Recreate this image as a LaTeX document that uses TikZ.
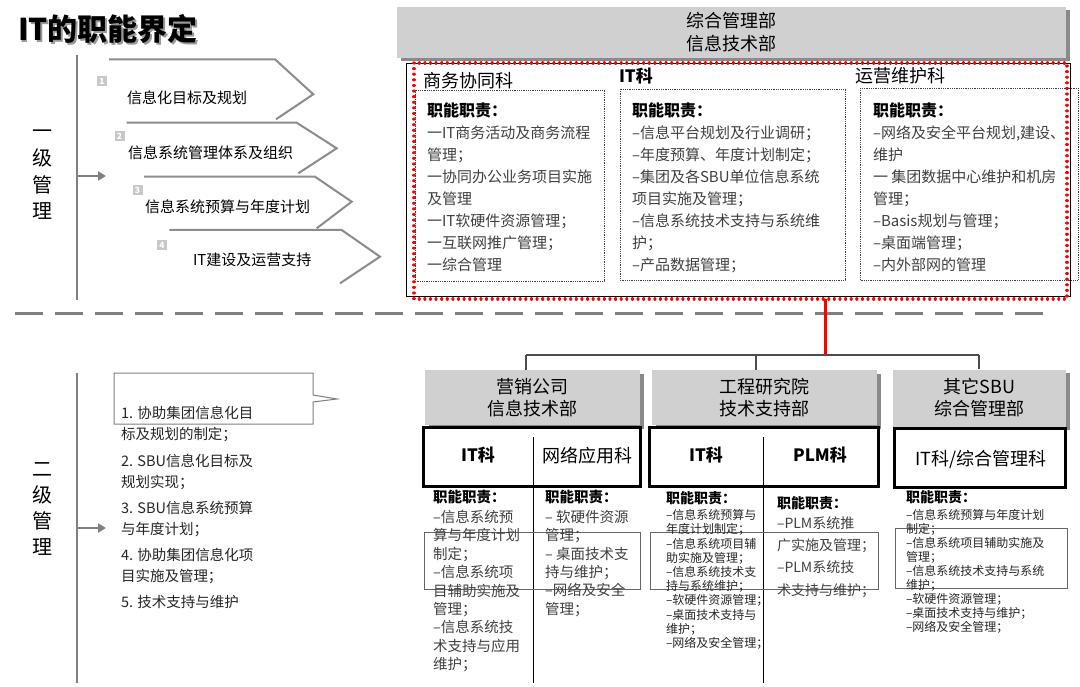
\documentclass[tikz,border=0pt]{standalone}
\usepackage{fontspec}
\setmainfont{Noto Sans CJK SC}
\usetikzlibrary{arrows.meta,shadows}
\definecolor{chev}{HTML}{8C8C8C}
\definecolor{lline}{HTML}{808080}
\definecolor{hdrgray}{HTML}{D0D0D0}
\definecolor{shgray}{HTML}{8A8A8A}
\definecolor{txtgray}{HTML}{404040}
\definecolor{numgray}{HTML}{C8C8C8}
\definecolor{redd}{HTML}{FF0000}
\newcommand\fs[2]{\fontsize{#1}{#2}\selectfont}
\begin{document}
\begin{tikzpicture}[x=1pt,y=-1pt,
  every node/.style={inner sep=0pt,outer sep=0pt},
  leftline/.style={draw=lline,line width=2.6pt},
  arr/.style={draw=lline,line width=2.6pt,-{Triangle[length=8pt,width=9pt]}},
  chevline/.style={draw=chev,line width=2pt},
  numbox/.style={fill=numgray,minimum width=10pt,minimum height=10pt,text=white,font=\fs{8.5}{9}\bfseries},
  chevtxt/.style={anchor=west,font=\fs{15}{18},text=black},
  hdr/.style={fill=hdrgray,draw=none,align=center,text=black,
    drop shadow={shadow xshift=3.5pt,shadow yshift=-3.5pt,fill=shgray,opacity=1}},
  reddot/.style={draw=redd,line width=3.2pt,dash pattern=on 0.01pt off 5.6pt,line cap=round},
  dotbox/.style={draw=black!75,line width=0.7pt,dash pattern=on 0.9pt off 0.9pt},
  boxtxt/.style={anchor=north west,align=left,text=txtgray},
  dutyhead/.style={anchor=west,font=\fs{16}{18}\bfseries,text=black},
  secname/.style={anchor=west,font=\fs{18}{20},text=black},
  dashline/.style={draw=lline,line width=3pt,dash pattern=on 28pt off 12pt},
  treeline/.style={draw=black!70,line width=1.3pt},
  blackbox/.style={draw=black,line width=3pt},
  overlay/.style={draw=black!60,line width=0.8pt},
  divider/.style={draw=black,line width=0.8pt}
]
\fill[white] (0,0) rectangle (1080,687);
\useasboundingbox (0,0) rectangle (1080,687);

% title
\node[anchor=west,font=\fs{30}{36}\bfseries,text=black!40] (titlesh) at (19.6,30.6) {IT的职能界定};
\node[anchor=west,font=\fs{30}{36}\bfseries,text=black] (title) at (18,29) {IT的职能界定};

% ---------- level 1 left ----------
\coordinate (v1t) at (77,55);
\coordinate (v1b) at (77,300);
\draw[leftline] (v1t) -- (v1b);
\coordinate (a1s) at (77,176);
\coordinate (a1e) at (106,176);
\draw[arr] (a1s) -- (a1e);
\node[align=center,font=\fs{20}{26.7},text=black] (lvl1) at (42,175) {一\\级\\管\\理};

\draw[chevline] (109,59.3) -- (275,59.3) -- (313.3,94.3) -- (276,119.3);
\draw[chevline] (126.7,122.7) -- (296.7,122.7) -- (336.7,148.3) -- (298.3,173.3);
\draw[chevline] (144,176.7) -- (315,176.7) -- (351.7,201.7) -- (316.7,228.3);
\draw[chevline] (169.3,230) -- (341.7,230) -- (380,256.7) -- (340,283.3);
\node[numbox] (n1) at (102,81) {1};
\node[numbox] (n2) at (119.5,136) {2};
\node[numbox] (n3) at (137.5,190) {3};
\node[numbox] (n4) at (162,245) {4};
\node[chevtxt] (c1) at (127,98) {信息化目标及规划};
\node[chevtxt] (c2) at (128,153) {信息系统管理体系及组织};
\node[chevtxt] (c3) at (145,207) {信息系统预算与年度计划};
\node[chevtxt] (c4) at (193,260) {IT建设及运营支持};

% ---------- top department ----------
\node[hdr,minimum width=669pt,minimum height=51pt,font=\fs{18}{23}] (top) at (731.5,32.5) {综合管理部\\信息技术部};
\draw[black,line width=0.8pt] (406,63) rectangle (1070,296);
\draw[reddot] (414,63) rectangle (1067,299);
\draw[dotbox] (415,90) rectangle (604,281);
\draw[dotbox] (620,89) rectangle (845,280);
\draw[dotbox] (860,88) rectangle (1078,280);

\node[secname] (s1) at (423,81) {商务协同科};
\node[anchor=west,font=\fs{17}{20}\bfseries,text=black] (s2) at (619,76) {IT科};
\node[secname] (s3) at (855,76) {运营维护科};

\node[dutyhead] (d1) at (427,110) {职能职责：};
\node[dutyhead] (d2) at (632,110) {职能职责：};
\node[dutyhead] (d3) at (873,110) {职能职责：};

\node[boxtxt,font=\fs{15}{22}] (t1) at (427,126) {一IT商务活动及商务流程\\管理；\\一协同办公业务项目实施\\及管理\\一IT软硬件资源管理；\\一互联网推广管理；\\一综合管理};
\node[boxtxt,font=\fs{15}{22}] (t2) at (632,126) {–信息平台规划及行业调研；\\–年度预算、年度计划制定；\\–集团及各SBU单位信息系统\\项目实施及管理；\\–信息系统技术支持与系统维\\护；\\–产品数据管理；};
\node[boxtxt,font=\fs{15}{22}] (t3) at (873,126) {–网络及安全平台规划,建设、\\维护\\一 集团数据中心维护和机房\\管理；\\–Basis规划与管理；\\–桌面端管理；\\–内外部网的管理};

% ---------- separator ----------
\coordinate (dl) at (15,314);
\coordinate (dr) at (1045,314);
\draw[dashline] (dl) -- (dr);

% ---------- tree ----------
\coordinate (redA) at (825,299);
\coordinate (redB) at (825,355);
\coordinate (trL) at (526,355);
\coordinate (trM) at (756,355);
\coordinate (trR) at (979,355);
\coordinate (dA) at (526,370);
\coordinate (dB) at (756,370);
\coordinate (dC) at (979,369);
\draw[treeline] (trL) -- (trR);
\draw[treeline] (trL) -- (dA);
\draw[treeline] (trM) -- (dB);
\draw[treeline] (trR) -- (dC);
\draw[redd,line width=3pt] (redA) -- (redB);

% ---------- level 2 left ----------
\coordinate (v2t) at (77,373);
\coordinate (v2b) at (77,683);
\draw[leftline] (v2t) -- (v2b);
\coordinate (a2s) at (77,528);
\coordinate (a2e) at (106,528);
\draw[arr] (a2s) -- (a2e);
\node[align=center,font=\fs{20}{26},text=black] (lvl2) at (42,509) {二\\级\\管\\理};

\draw[draw=lline,line width=1pt] (114,373) -- (313,373) -- (313,395) -- (337,399) -- (313,402) -- (313,424) -- (114,424) -- cycle;

\node[boxtxt,font=\fs{14.5}{20.5},text=black!85] (L1) at (121,406.2) {1. 协助集团信息化目\\标及规划的制定；};
\node[boxtxt,font=\fs{14.5}{20.5},text=black!85] (L2) at (121,454.2) {2. SBU信息化目标及\\规划实现；};
\node[boxtxt,font=\fs{14.5}{20.5},text=black!85] (L3) at (121,501.2) {3. SBU信息系统预算\\与年度计划；};
\node[boxtxt,font=\fs{14.5}{20.5},text=black!85] (L4) at (121,548.2) {4. 协助集团信息化项\\目实施及管理；};
\node[boxtxt,font=\fs{14.5}{20.5},text=black!85] (L5) at (121,595.2) {5. 技术支持与维护};

% ---------- level 2 departments ----------
\node[hdr,minimum width=215pt,minimum height=55pt,font=\fs{18}{22}] (hA) at (532.5,397.5) {营销公司\\信息技术部};
\node[hdr,minimum width=225pt,minimum height=55pt,font=\fs{18}{22}] (hB) at (764.5,397.5) {工程研究院\\技术支持部};
\node[hdr,minimum width=173pt,minimum height=57pt,font=\fs{18}{22}] (hC) at (979.5,398) {其它SBU\\综合管理部};

\draw[blackbox] (423,427) rectangle (640,486);
\draw[blackbox] (649,427) rectangle (878,486);
\draw[blackbox] (894,428) rectangle (1065,487);
\coordinate (vA1) at (533,437);
\coordinate (vA2) at (533,683);
\coordinate (vB1) at (763,437);
\coordinate (vB2) at (763,683);
\draw[divider] (vA1) -- (vA2);
\draw[divider] (vB1) -- (vB2);

\node[font=\fs{17}{20}\bfseries] (kA1) at (478,455) {IT科};
\node[font=\fs{18}{20}] (kA2) at (587,456) {网络应用科};
\node[font=\fs{17}{20}\bfseries] (kB1) at (706,455) {IT科};
\node[font=\fs{17}{20}\bfseries] (kB2) at (820,455) {PLM科};
\node[font=\fs{18}{20}] (kC1) at (981,460) {IT科/综合管理科};

\draw[overlay] (424,532) rectangle (640,589);
\draw[overlay] (650,532) rectangle (878,589);
\draw[overlay] (895,528) rectangle (1067,588);

\node[anchor=west,font=\fs{14.5}{16}\bfseries] (dA1) at (433,497) {职能职责：};
\node[anchor=west,font=\fs{14.5}{16}\bfseries] (dA2) at (545,497) {职能职责：};
\node[anchor=west,font=\fs{14}{16}\bfseries] (dB1) at (666,498) {职能职责：};
\node[anchor=west,font=\fs{14}{16}\bfseries] (dB2) at (777,503) {职能职责：};
\node[anchor=west,font=\fs{14}{16}\bfseries] (dC1) at (906,497) {职能职责：};

\node[boxtxt,font=\fs{14.5}{18.4}] (tA1) at (433,510.2) {–信息系统预\\算与年度计划\\制定；\\–信息系统项\\目辅助实施及\\管理；\\–信息系统技\\术支持与应用\\维护；};
\node[boxtxt,font=\fs{14.5}{18.4}] (tA2) at (545,510.2) {– 软硬件资源\\管理；\\– 桌面技术支\\持与维护；\\–网络及安全\\管理；};
\node[boxtxt,font=\fs{12}{14.2},text=black!85] (tB1) at (666,509.4) {–信息系统预算与\\年度计划制定；\\–信息系统项目辅\\助实施及管理；\\–信息系统技术支\\持与系统维护；\\–软硬件资源管理；\\–桌面技术支持与\\维护；\\–网络及安全管理；};
\node[boxtxt,font=\fs{14}{22.3}] (tB2) at (777,516.4) {–PLM系统推\\广实施及管理；\\–PLM系统技\\术支持与维护；};
\node[boxtxt,font=\fs{12}{14},text=black!85] (tC1) at (906,509.4) {–信息系统预算与年度计划\\制定；\\–信息系统项目辅助实施及\\管理；\\–信息系统技术支持与系统\\维护；\\–软硬件资源管理；\\–桌面技术支持与维护；\\–网络及安全管理；};

\end{tikzpicture}
\end{document}
